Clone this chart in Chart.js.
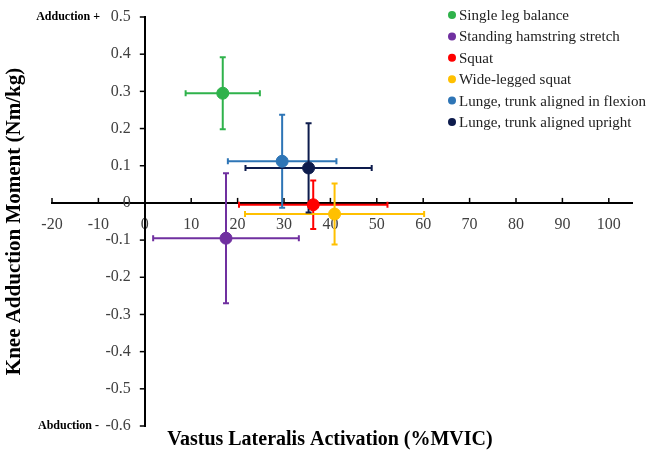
<!DOCTYPE html>
<html>
<head>
<meta charset="utf-8">
<script src="https://cdn.jsdelivr.net/npm/chart.js@4/dist/chart.umd.min.js"></script>
<style>
  html, body { margin: 0; padding: 0; background: #fff; }
  #wrap { width: 660px; height: 451px; }
</style>
</head>
<body>
<div id="wrap"><canvas id="canvas" width="660" height="451"></canvas></div>
<script>
var exercises = ['Single leg balance', 'Standing hamstring stretch', 'Squat', 'Wide-legged squat',
    'Lunge, trunk aligned in flexion', 'Lunge, trunk aligned upright'];
var vlActivation = [16.8, 17.5, 36.3, 40.9, 29.6, 35.3];      // %MVIC
var vlActivationSd = [8.0, 15.7, 16.0, 19.3, 11.7, 13.6];
var kneeMoment = [0.295, -0.095, -0.005, -0.03, 0.112, 0.094]; // Nm/kg
var kneeMomentSd = [0.097, 0.175, 0.065, 0.082, 0.125, 0.12];
var colors = ['#2fb24b', '#7030a0', '#ff0000', '#ffc000', '#2e75b6', '#0d1b4c'];

Chart.defaults.font.family = '"Liberation Serif", "Times New Roman", serif';

var datasets = exercises.map(function(name, i) {
    return {
        label: name,
        data: [{x: vlActivation[i], y: kneeMoment[i]}],
        xErr: vlActivationSd[i],
        yErr: kneeMomentSd[i],
        backgroundColor: colors[i],
        borderColor: colors[i],
        pointRadius: 6,
        pointHoverRadius: 6
    };
});

var yLabel = function(v) {
    return Math.abs(v) < 1e-9 ? '0' : v.toFixed(1);
};

// error bars, tick marks, y tick labels, titles and the legend
var extras = {
    id: 'extras',
    beforeDatasetsDraw: function(chart) {
        var ctx = chart.ctx;
        var xs = chart.scales.x, ys = chart.scales.y;
        var x0 = xs.getPixelForValue(0), y0 = ys.getPixelForValue(0);
        ctx.save();
        ctx.strokeStyle = '#000';
        ctx.lineWidth = 1.5;
        xs.ticks.forEach(function(t) {
            var px = xs.getPixelForValue(t.value);
            ctx.beginPath();
            ctx.moveTo(px, y0);
            ctx.lineTo(px, y0 - 5);
            ctx.stroke();
        });
        ctx.fillStyle = '#404040';
        ctx.font = '16px "Liberation Serif", serif';
        ctx.textAlign = 'right';
        ctx.textBaseline = 'middle';
        ys.ticks.forEach(function(t) {
            var py = ys.getPixelForValue(t.value);
            ctx.beginPath();
            ctx.moveTo(x0, py);
            ctx.lineTo(x0 - 5, py);
            ctx.stroke();
            ctx.fillText(yLabel(t.value), x0 - 14, py);
        });
        chart.data.datasets.forEach(function(ds) {
            var p = ds.data[0];
            var cx = xs.getPixelForValue(p.x), cy = ys.getPixelForValue(p.y);
            var xl = xs.getPixelForValue(p.x - ds.xErr), xr = xs.getPixelForValue(p.x + ds.xErr);
            var yt = ys.getPixelForValue(p.y + ds.yErr), yb = ys.getPixelForValue(p.y - ds.yErr);
            ctx.strokeStyle = ds.borderColor;
            ctx.lineWidth = 2;
            ctx.beginPath();
            ctx.moveTo(xl, cy); ctx.lineTo(xr, cy);
            ctx.moveTo(cx, yt); ctx.lineTo(cx, yb);
            ctx.moveTo(xl, cy - 3); ctx.lineTo(xl, cy + 3);
            ctx.moveTo(xr, cy - 3); ctx.lineTo(xr, cy + 3);
            ctx.moveTo(cx - 3, yt); ctx.lineTo(cx + 3, yt);
            ctx.moveTo(cx - 3, yb); ctx.lineTo(cx + 3, yb);
            ctx.stroke();
        });
        ctx.restore();
    },
    afterDraw: function(chart) {
        var ctx = chart.ctx;
        var ys = chart.scales.y, area = chart.chartArea;
        ctx.save();
        ctx.fillStyle = '#000';
        ctx.textAlign = 'right';
        ctx.textBaseline = 'middle';
        ctx.font = 'bold 12px "Liberation Serif", serif';
        ctx.fillText('Adduction +', 100, ys.getPixelForValue(0.5));
        ctx.fillText('Abduction -', 99, ys.getPixelForValue(-0.6));

        ctx.textAlign = 'center';
        ctx.font = 'bold 20px "Liberation Serif", serif';
        ctx.fillText('Vastus Lateralis Activation (%MVIC)', 330, 440);
        ctx.translate(15, (area.top + area.bottom) / 2);
        ctx.rotate(-Math.PI / 2);
        ctx.font = 'bold 21px "Liberation Serif", serif';
        ctx.fillText('Knee Adduction Moment (Nm/kg)', 0, 0);
        ctx.restore();

        ctx.save();
        ctx.font = '15px "Liberation Serif", serif';
        ctx.textBaseline = 'middle';
        chart.data.datasets.forEach(function(ds, i) {
            var ly = 15 + i * 21.4;
            ctx.fillStyle = ds.backgroundColor;
            ctx.beginPath();
            ctx.arc(452, ly, 4, 0, Math.PI * 2);
            ctx.fill();
            ctx.fillStyle = '#222';
            ctx.fillText(ds.label, 459, ly + 1);
        });
        ctx.restore();
    }
};

var config = {
    type: 'scatter',
    data: {datasets: datasets},
    options: {
        responsive: false,
        animation: false,
        layout: {padding: {left: 52, right: 28, top: 17, bottom: 25}},
        plugins: {
            legend: {display: false},
            title: {display: false},
            tooltip: {enabled: false}
        },
        scales: {
            x: {
                type: 'linear',
                position: {y: 0},
                min: -20,
                max: 105,
                grid: {drawOnChartArea: false, drawTicks: false},
                border: {color: '#000', width: 2},
                ticks: {
                    stepSize: 10,
                    includeBounds: false,
                    padding: 12,
                    color: '#404040',
                    font: {size: 16},
                    maxRotation: 0,
                    autoSkip: false
                }
            },
            y: {
                type: 'linear',
                position: {x: 0},
                min: -0.6,
                max: 0.5,
                grid: {drawOnChartArea: false, drawTicks: false},
                border: {color: '#000', width: 2},
                ticks: {
                    stepSize: 0.1,
                    display: false,
                    autoSkip: false,
                    callback: yLabel
                }
            }
        }
    },
    plugins: [extras]
};

window.onload = function() {
    window.myScatter = new Chart(document.getElementById('canvas'), config);
};
</script>
</body>
</html>
